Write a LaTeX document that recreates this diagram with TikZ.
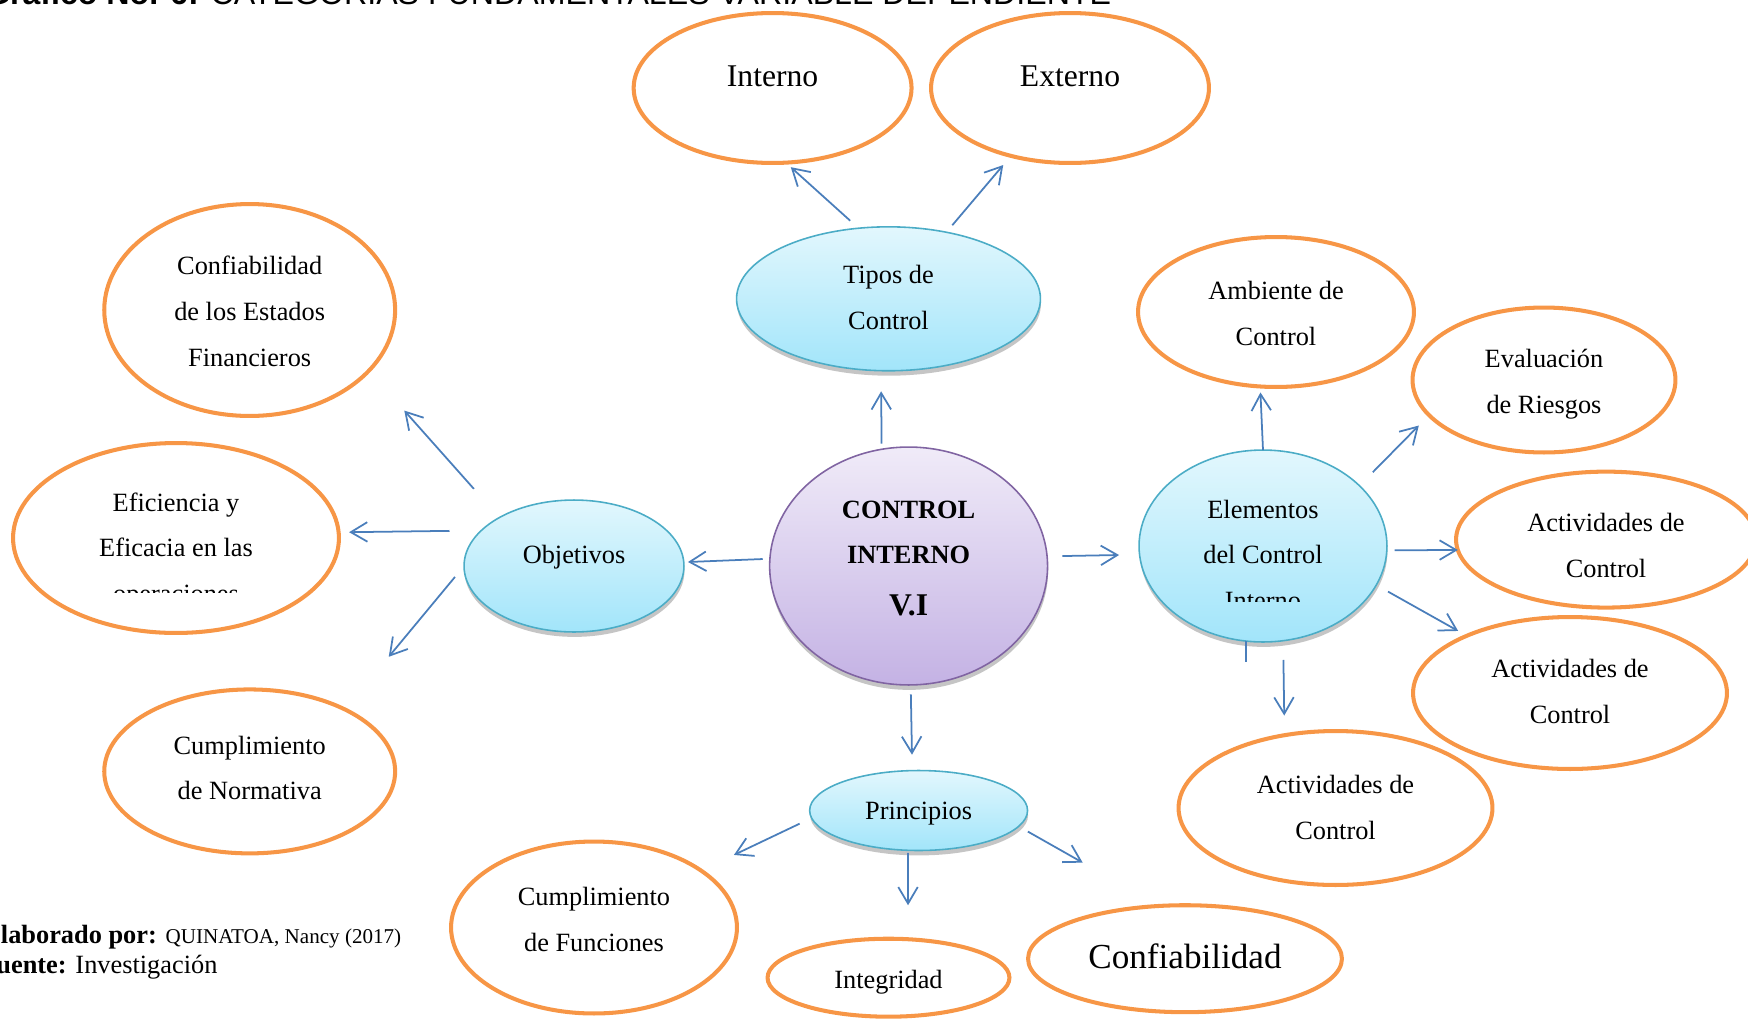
\documentclass[tikz,border=0pt]{standalone}
\usepackage{fontspec}
\setmainfont{Liberation Serif}
\newfontfamily\headfont{Liberation Sans}
\usetikzlibrary{shapes.geometric,arrows.meta,shadows}

\definecolor{ovalorange}{HTML}{F79646}
\definecolor{linkblue}{HTML}{4A7EBB}
\definecolor{cyanedge}{HTML}{4BACC6}
\definecolor{cyantop}{HTML}{E2F7FD}
\definecolor{cyanbot}{HTML}{A2E5FA}
\definecolor{lilacedge}{HTML}{8064A2}
\definecolor{lilactop}{HTML}{F0EBF8}
\definecolor{lilacbot}{HTML}{C4B2E4}

% centred text that does not change the size of the oval
\newcommand{\ovtxt}[2][0pt]{\smash{\raisebox{#1}{\makebox[0pt]{\begin{tabular}{@{}c@{}}#2\end{tabular}}}}}

\begin{document}
\begin{tikzpicture}[x=0.02cm, y=-0.02cm,
        ovalsize/.style 2 args={minimum width=#1*0.04cm, minimum height=#2*0.04cm},
        leaf/.style={ellipse, draw=ovalorange, line width=2.3pt, fill=white, inner sep=0pt, outer sep=0pt, font=\fontsize{15}{26}\selectfont},
        topic/.style={ellipse, draw=cyanedge, line width=0.9pt, top color=cyantop, bottom color=cyanbot, inner sep=0pt, outer sep=0pt,
            drop shadow={shadow xshift=0.3pt, shadow yshift=-2.8pt, fill=black!45}, font=\fontsize{15}{26}\selectfont},
        core/.style={topic, draw=lilacedge, top color=lilactop, bottom color=lilacbot},
        arrow/.style={-{Straight Barb[length=3.3mm,width=3.9mm]}, linkblue, line width=1pt}
    ]
    \useasboundingbox (0,0) rectangle (1748,1018);
    \clip (0,0) rectangle (1748,1018);

    \node[anchor=base east, inner sep=0pt, font=\headfont\fontsize{18.3}{20}\selectfont] (titulo) at (1111.5,4)
        {\textbf{Gráfico No. 6:} CATEGORÍAS FUNDAMENTALES VARIABLE DEPENDIENTE};

    % centre and branches
    \node[core, ovalsize={139}{119}] (ci) at (908.6,566)
        {\ovtxt[1.2pt]{\bfseries CONTROL\\ \bfseries INTERNO\\[3.2pt] \fontsize{18}{26}\selectfont\bfseries V.I}};
    \node[topic, ovalsize={152}{72}] (tipos) at (888.5,298.8) {\ovtxt[-2.7pt]{Tipos de\\Control}};
    \node[topic, ovalsize={110}{66}] (objet) at (574,566) {\ovtxt[3.2pt]{Objetivos}};
    \node[topic, ovalsize={109}{40}] (princ) at (918.6,810.5) {\ovtxt[-3.4pt]{Principios}};
    \node[topic, ovalsize={124}{96}] (elem) at (1263,546) {};

    % leaves
    \node[leaf, ovalsize={139}{75}, font=\fontsize{18}{26}\selectfont] (interno) at (772.6,88) {\ovtxt[1.9pt]{Interno}};
    \node[leaf, ovalsize={139}{75}, font=\fontsize{18}{26}\selectfont] (externo) at (1070,88) {\ovtxt[1.9pt]{Externo}};
    \node[leaf, ovalsize={145.5}{106}] (confEF) at (249.7,310) {\ovtxt[-4.3pt]{Confiabilidad\\de los Estados\\Financieros}};
    \node[leaf, ovalsize={163}{95}] (efic) at (176,538) {};
    \node[leaf, ovalsize={145.5}{82}] (cumplN) at (249.7,771.4) {\ovtxt[-1.5pt]{Cumplimiento\\de Normativa}};
    \node[leaf, ovalsize={143}{86}] (cumplF) at (594,927.5) {\ovtxt[1pt]{Cumplimiento\\de Funciones}};
    \node[leaf, ovalsize={121}{39}] (integ) at (888.5,977.7) {\ovtxt[-4.7pt]{Integridad}};
    \node[leaf, ovalsize={157}{53.5}, font=\fontsize{20}{26}\selectfont] (confiab) at (1185,958.7) {\ovtxt[-5.5pt]{Confiabilidad}};
    \node[leaf, ovalsize={138}{75}] (amb) at (1276,312) {\ovtxt[-4.4pt]{Ambiente de\\Control}};
    \node[leaf, ovalsize={131.5}{72.5}] (eval) at (1544,380) {\ovtxt[-4.5pt]{Evaluación\\de Riesgos}};
    \node[leaf, ovalsize={150}{68}] (act1) at (1606,539.6) {\ovtxt[-6.9pt]{Actividades de\\Control}};
    \node[leaf, ovalsize={157}{76}] (act2) at (1570,693) {\ovtxt[-2.7pt]{Actividades de\\Control}};
    \node[leaf, ovalsize={157}{77}] (act3) at (1335.5,808) {\ovtxt[-3.2pt]{Actividades de\\Control}};

    % texts cut off at the bottom
    \begin{scope}
        \clip (0,400) rectangle (400,592.7);
        \node[font=\fontsize{15}{26}\selectfont, inner sep=0pt] (eficTxt) at (176,538)
            {\ovtxt[-9.2pt]{Eficiencia y\\Eficacia en las\\operaciones}};
    \end{scope}
    \begin{scope}
        \clip (1130,440) rectangle (1400,601);
        \node[font=\fontsize{15}{26}\selectfont, inner sep=0pt] (elemTxt) at (1263,546)
            {\ovtxt[-8.5pt]{Elementos\\del Control\\Interno}};
    \end{scope}

    \draw[arrow, shorten <=2.26mm, shorten >=1.35mm] (tipos.113.5) -- (interno.-80.3);
    \draw[arrow, shorten <=1.84mm, shorten >=2.4mm] (tipos.49.8) -- (externo.-131);
    \draw[arrow, shorten <=1.14mm, shorten >=4.12mm] (ci.103.5) -- (tipos.-96.2);
    \draw[arrow, shorten <=1.44mm, shorten >=0.84mm] (ci.177.8) -- (objet.2.8);
    \draw[arrow, shorten <=3.06mm, shorten >=4.1mm] (ci.4) -- (elem.184.8);
    \draw[arrow, shorten <=1.9mm, shorten >=3.18mm] (ci.-89.5) -- (princ.99.5);

    \draw[arrow, shorten <=7.68mm, shorten >=10.66mm] (objet.147.8) -- (confEF.-27.4);
    \draw[arrow, shorten <=6.38mm, shorten >=2.1mm] (objet.159.1) -- (efic.2.6);
    \draw[arrow, shorten <=2.84mm, shorten >=13.7mm] (objet.180.9) -- (cumplN.33.8);

    \draw[arrow, shorten <=2.64mm, shorten >=7.28mm] (princ.184.9) -- (cumplF.28.5);
    \draw[arrow, shorten <=0.5mm, shorten >=6.8mm] (princ.-105.6) -- (integ.63.7);
    \draw[arrow, shorten <=2.12mm, shorten >=17.6mm] (princ.-9) -- (confiab.116.7);

    \draw[arrow, shorten >=1.2mm] (elem.90) -- (amb.-102.6);
    \draw[arrow, shorten <=3.8mm, shorten >=2.92mm] (elem.32.6) -- (eval.197.3);
    \draw[arrow, shorten <=1.56mm] (elem.-2.7) -- (act1.184.7);
    \draw[arrow, shorten <=2.7mm, shorten >=1.98mm] (elem.-19.3) -- (act2.151);
    \draw[arrow, shorten <=3.86mm, shorten >=3.94mm] (elem.-78) -- (act3.125.8);
    \draw[linkblue, line width=1pt] (elem.260.7) -- ++(0,21);

    \node[anchor=base west, inner sep=0pt, font=\fontsize{15}{18}\selectfont] (elab) at (-17,943)
        {\textbf{Elaborado por:} {\fontsize{12}{14}\selectfont QUINATOA, Nancy (2017)}};
    \node[anchor=base west, inner sep=0pt, font=\fontsize{15}{18}\selectfont] (fuente) at (-20,973)
        {\textbf{Fuente:} Investigación};
\end{tikzpicture}
\end{document}
